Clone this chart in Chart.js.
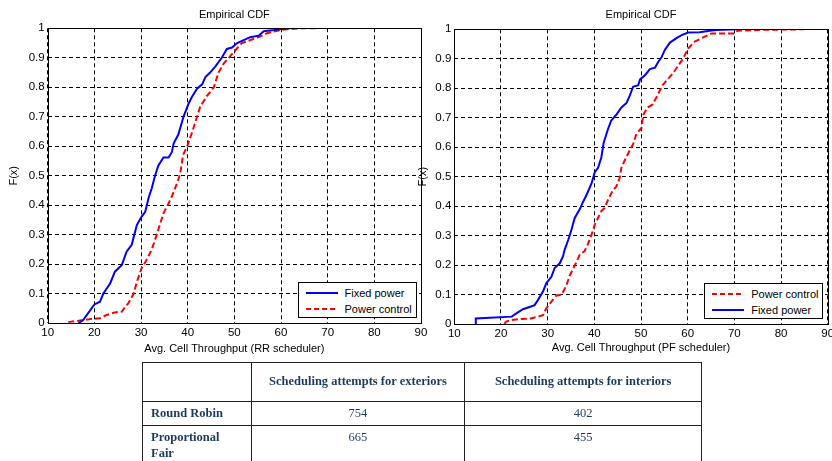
<!DOCTYPE html>
<html>
<head>
<meta charset="utf-8">
<script src="https://cdn.jsdelivr.net/npm/chart.js@4.4.0/dist/chart.umd.min.js"></script>
<style>
  html, body { margin: 0; padding: 0; background: #fff; }
  #page { position: relative; width: 832px; height: 461px; overflow: hidden; background: #fff; }
  #page canvas { position: absolute; top: 0; }
  .legend {
    position: absolute; width: 119px; height: 36px; box-sizing: border-box;
    background: #fff; border: 1px solid #000;
    font: 11px 'Liberation Sans', Arial, sans-serif; color: #000;
  }
  .legend .item { position: absolute; left: 7px; height: 14px; display: flex; align-items: center; white-space: nowrap; }
  .legend .item svg { width: 32px; height: 4px; margin-right: 7px; }
  #stats {
    position: absolute; left: 142px; top: 362px; width: 559px;
    border-collapse: collapse; table-layout: fixed;
    font: 12.5px/15.7px 'Liberation Serif', 'Times New Roman', serif; color: #1c3a5e;
  }
  #stats td, #stats th { border: 1px solid #222; padding: 4px 8px; }
  #stats th { font-weight: bold; text-align: center; vertical-align: middle; }
  #stats td { text-align: center; vertical-align: top; }
  #stats td.rowhead { text-align: left; font-weight: bold; }
</style>
</head>
<body>
<div id="page">
  <canvas id="rr" width="432" height="363" style="left:0"></canvas>
  <canvas id="pf" width="432" height="363" style="left:410px"></canvas>
  <div class="legend" id="rrLegend"></div>
  <div class="legend" id="pfLegend"></div>
  <table id="stats"></table>
</div>
<script>
// ---- Empirical CDF samples, Round Robin scheduler ----
const rrFixedX = [16.6, 17.6, 20.0, 21.2, 21.9, 23.4, 24.4, 25.9, 26.9, 28.0, 29.1, 30.1, 30.9, 31.6, 32.3,
  33.0, 33.7, 34.8, 35.9, 36.6, 37.0, 38.0, 39.1, 40.2, 40.9, 42.0, 43.1, 43.8, 44.8, 45.9, 47.3, 48.4,
  49.5, 50.6, 52.0, 53.4, 55.2, 56.3, 58.5, 60.1, 62.0];
const rrFixedY = [0, 0.011, 0.064, 0.073, 0.1, 0.136, 0.175, 0.198, 0.243, 0.266, 0.333, 0.361, 0.378, 0.424, 0.458,
  0.5, 0.534, 0.562, 0.562, 0.58, 0.61, 0.64, 0.70, 0.745, 0.767, 0.795, 0.81, 0.835, 0.85, 0.87, 0.90, 0.93,
  0.935, 0.95, 0.96, 0.97, 0.975, 0.99, 0.994, 0.998, 1.0];
const rrPowerX = [14.4, 17.3, 19.4, 21.2, 22.6, 24.4, 25.9, 26.6, 27.3, 28.4, 29.1, 30.1, 31.2, 32.3, 33.0, 33.7,
  34.8, 35.9, 36.6, 37.7, 38.4, 39.0, 39.9, 41.0, 42.0, 42.7, 44.1, 45.6, 46.6, 47.7, 48.8, 50.2, 51.6, 53.4,
  55.2, 57.0, 59.2, 61.3, 64.2, 68.1];
const rrPowerY = [0.004, 0.01, 0.015, 0.017, 0.028, 0.037, 0.04, 0.056, 0.068, 0.10, 0.14, 0.186, 0.215, 0.25, 0.283, 0.317,
  0.373, 0.406, 0.43, 0.474, 0.508, 0.57, 0.60, 0.65, 0.70, 0.735, 0.77, 0.80, 0.85, 0.88, 0.90, 0.925, 0.95, 0.96,
  0.97, 0.983, 0.992, 0.997, 1.0, 1.0];

// ---- Empirical CDF samples, Proportional Fair scheduler ----
const pfFixedX = [14.6, 14.6, 17.6, 22.3, 23.3, 24.7, 25.8, 27.2, 27.9, 29.0, 29.7, 30.8, 31.5, 32.6, 33.3, 33.6,
  34.4, 35.1, 35.8, 36.9, 37.6, 38.3, 39.4, 40.1, 40.8, 41.5, 42.0, 42.9, 43.6, 44.7, 45.8, 46.9, 47.6, 48.3,
  49.4, 49.8, 50.9, 51.9, 53.0, 53.7, 54.4, 55.1, 56.2, 57.6, 58.7, 60.1, 62.6, 64.7, 66.1, 70.7];
const pfFixedY = [0, 0.019, 0.021, 0.025, 0.036, 0.05, 0.056, 0.064, 0.081, 0.11, 0.138, 0.16, 0.19, 0.206, 0.23, 0.25,
  0.285, 0.32, 0.36, 0.39, 0.415, 0.437, 0.477, 0.515, 0.53, 0.565, 0.615, 0.66, 0.69, 0.71, 0.735, 0.75, 0.775, 0.805,
  0.81, 0.83, 0.845, 0.865, 0.87, 0.89, 0.905, 0.93, 0.955, 0.97, 0.98, 0.989, 0.99, 0.995, 0.998, 1.0];
const pfPowerX = [20.7, 21.1, 22.1, 24.3, 26.4, 27.9, 29.0, 29.7, 30.8, 31.9, 33.0, 34.0, 34.7, 35.4, 36.1, 36.9,
  37.9, 38.6, 39.4, 40.1, 40.8, 41.5, 42.2, 42.9, 44.0, 44.7, 45.4, 45.8, 46.5, 47.6, 48.3, 49.0, 50.1, 50.5,
  51.4, 52.5, 53.5, 54.6, 55.7, 56.8, 57.9, 59.0, 60.1, 61.5, 63.0, 65.1, 70.0, 70.7, 75.7, 85.0];
const pfPowerY = [0, 0.008, 0.013, 0.017, 0.019, 0.025, 0.03, 0.053, 0.076, 0.097, 0.10, 0.13, 0.163, 0.186, 0.208, 0.236,
  0.247, 0.27, 0.303, 0.337, 0.36, 0.383, 0.394, 0.42, 0.455, 0.466, 0.494, 0.53, 0.555, 0.59, 0.61, 0.645, 0.665, 0.71,
  0.735, 0.745, 0.775, 0.81, 0.83, 0.85, 0.875, 0.90, 0.935, 0.958, 0.97, 0.986, 0.986, 0.995, 0.998, 1.0];

// ---- axes and labels ----
const xRange = [10, 90];
const yRange = [0, 1];
const plotTitle = 'Empirical CDF';
const yTitle = 'F(x)';
const rrXTitle = 'Avg. Cell Throughput (RR scheduler)';
const pfXTitle = 'Avg. Cell Throughput (PF scheduler)';
const seriesNames = { fixed: 'Fixed power', power: 'Power control' };

// ---- table of scheduling attempts ----
const tableHeaders = ['', 'Scheduling attempts for exteriors', 'Scheduling attempts for interiors'];
const schedulers = ['Round Robin', 'Proportional Fair'];
const exteriorAttempts = [754, 665];
const interiorAttempts = [402, 455];

const FONT_FAMILY = "'Liberation Sans', Arial, sans-serif";
const BLUE = '#0000ff';
const RED = '#ff0000';

function points(xs, ys) { return xs.map((x, i) => ({ x: x, y: ys[i] })); }

function fixedSeries(xs, ys) {
  return { label: seriesNames.fixed, data: points(xs, ys), borderColor: BLUE, backgroundColor: BLUE,
    borderWidth: 2, showLine: true, pointRadius: 0, tension: 0, fill: false };
}
function powerSeries(xs, ys) {
  return { label: seriesNames.power, data: points(xs, ys), borderColor: RED, backgroundColor: RED,
    borderWidth: 2, borderDash: [6, 3], showLine: true, pointRadius: 0, tension: 0, fill: false };
}

// Solid frame around the plotting area
const framePlugin = {
  id: 'frame',
  afterDraw(chart) {
    const a = chart.chartArea, ctx = chart.ctx;
    ctx.save();
    ctx.strokeStyle = '#000';
    ctx.lineWidth = 1;
    ctx.strokeRect(Math.round(a.left) + 0.5, Math.round(a.top) + 0.5,
      Math.round(a.right) - Math.round(a.left), Math.round(a.bottom) - Math.round(a.top));
    ctx.restore();
  }
};

function makeChart(id, datasets, g) {
  const tickFont = { family: FONT_FAMILY, size: 11.5 };
  const titleFont = { family: FONT_FAMILY, size: 11 };
  return new Chart(document.getElementById(id), {
    type: 'scatter',
    data: { datasets: datasets },
    options: {
      responsive: false, animation: false, devicePixelRatio: 1,
      layout: { padding: { left: 0, right: g.padRight, top: 0, bottom: 0 }, autoPadding: false },
      plugins: { legend: { display: false }, title: { display: false }, tooltip: { enabled: false } },
      scales: {
        x: {
          type: 'linear', position: 'bottom', min: xRange[0], max: xRange[1],
          ticks: { stepSize: 10, padding: 3, maxRotation: 0, autoSkip: false, font: tickFont, color: '#000' },
          grid: { color: '#000', lineWidth: 1, drawTicks: false },
          border: { display: false, dash: [4, 3] },
          title: { display: true, text: g.xTitle, font: titleFont, color: '#000', padding: { top: 0, bottom: g.xTitlePad } },
          afterFit(s) { s.height = g.xHeight; }
        },
        xTop: {
          type: 'linear', position: 'top', min: xRange[0], max: xRange[1],
          ticks: { display: false }, grid: { display: false, drawTicks: false }, border: { display: false },
          title: { display: true, text: plotTitle, font: titleFont, color: '#000', padding: { top: g.titlePad, bottom: 0 } },
          afterFit(s) { s.height = g.topHeight; }
        },
        y: {
          type: 'linear', position: 'left', min: yRange[0], max: yRange[1],
          ticks: { stepSize: 0.1, padding: 3, font: tickFont, color: '#000',
            callback: v => String(Math.round(v * 10) / 10) },
          grid: { color: '#000', lineWidth: 1, drawTicks: false },
          border: { display: false, dash: [4, 3] },
          title: { display: true, text: yTitle, font: titleFont, color: '#000', padding: { top: g.yTitlePad, bottom: 0 } },
          afterFit(s) { s.width = g.yWidth; }
        }
      }
    },
    plugins: [framePlugin]
  });
}

const rrChart = makeChart('rr',
  [fixedSeries(rrFixedX, rrFixedY), powerSeries(rrPowerX, rrPowerY)],
  { padRight: 11, xTitle: rrXTitle, xHeight: 39.7, xTitlePad: 7.9, topHeight: 28.3, titlePad: 8.7, yWidth: 47.7, yTitlePad: 7.4 });

const pfChart = makeChart('pf',
  [powerSeries(pfPowerX, pfPowerY), fixedSeries(pfFixedX, pfFixedY)],
  { padRight: 14.3, xTitle: pfXTitle, xHeight: 39, xTitlePad: 8.1, topHeight: 29.3, titlePad: 8.7, yWidth: 44.3, yTitlePad: 5.9 });

// Legend boxes in the lower-right corner of each plot area
function sample(ds) {
  const dash = ds.borderDash ? ' stroke-dasharray="5,3"' : '';
  return '<svg viewBox="0 0 32 4"><line x1="0" y1="2" x2="32" y2="2" stroke="' + ds.borderColor +
    '" stroke-width="2"' + dash + '/></svg>';
}
function placeLegend(chart, el, canvasLeft) {
  const a = chart.chartArea;
  el.style.left = (canvasLeft + a.right - 4.5 - 119) + 'px';
  el.style.top = (a.bottom - 5.5 - 36) + 'px';
  el.innerHTML = chart.data.datasets.map((ds, i) =>
    '<div class="item" style="top:' + (3 + i * 16) + 'px">' + sample(ds) + '<span>' + ds.label + '</span></div>'
  ).join('');
}
placeLegend(rrChart, document.getElementById('rrLegend'), 0);
placeLegend(pfChart, document.getElementById('pfLegend'), 410);

// Table
const table = document.getElementById('stats');
let html = '<colgroup><col style="width:108.7px"><col style="width:213.6px"><col style="width:236.7px"></colgroup>';
html += '<tr style="height:38.7px">' + tableHeaders.map(h => '<th>' + h + '</th>').join('') + '</tr>';
schedulers.forEach((s, i) => {
  const h = i === 0 ? 24 : 40;
  html += '<tr style="height:' + h + 'px"><td class="rowhead">' + s + '</td><td>' + exteriorAttempts[i] +
    '</td><td>' + interiorAttempts[i] + '</td></tr>';
});
table.innerHTML = html;
</script>
</body>
</html>
